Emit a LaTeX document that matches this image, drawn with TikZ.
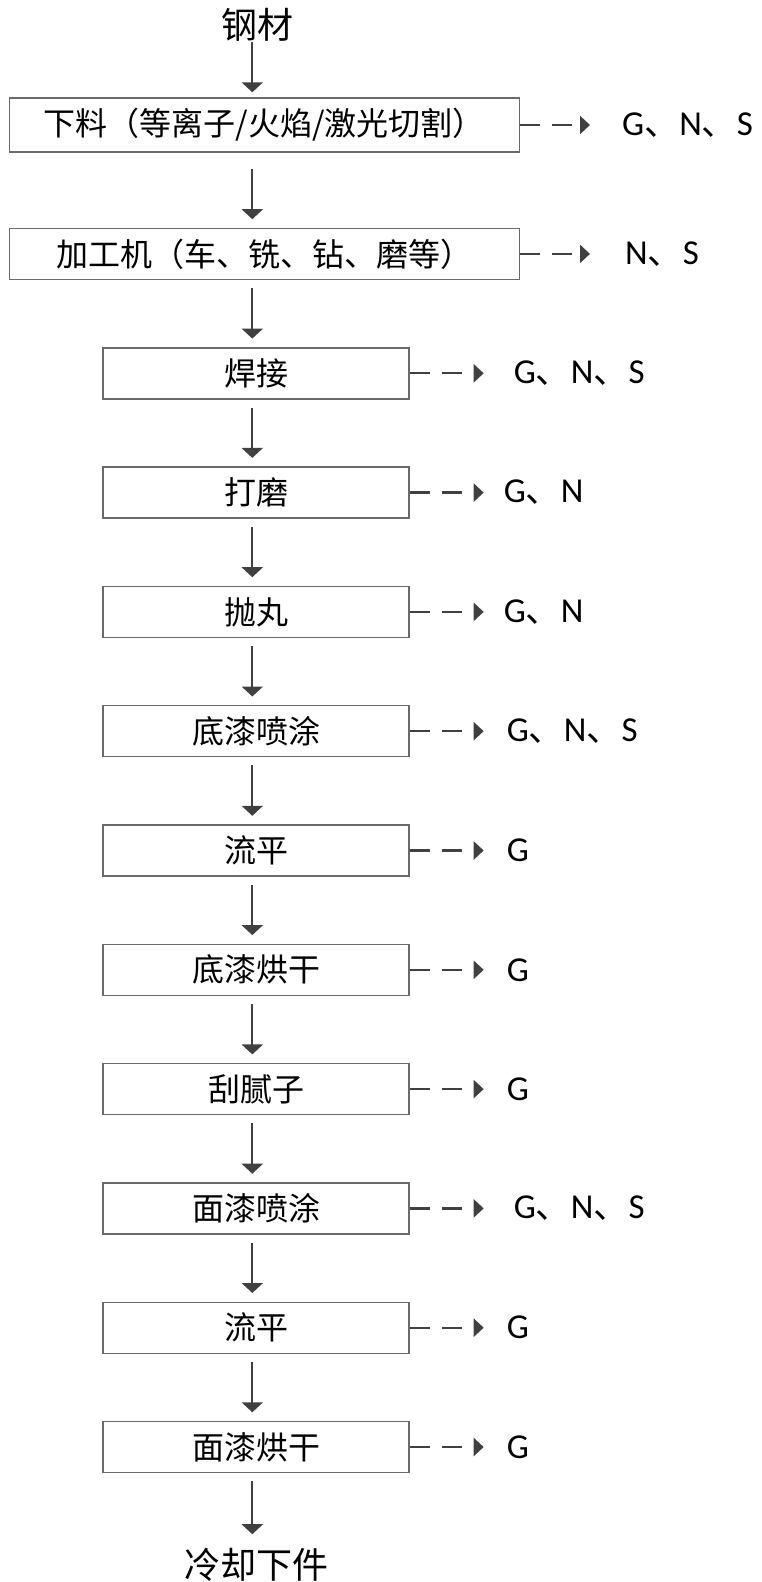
\documentclass[tikz,border=0pt]{standalone}
\usepackage{fontspec}
\setmainfont{Noto Sans CJK SC}
\newfontfamily\latinfont{Carlito}
\usepackage{tikz}
\usetikzlibrary{arrows.meta,positioning}
\definecolor{arrowgray}{HTML}{404040}
\definecolor{boxgray}{HTML}{6A6A6A}
\newcommand{\dun}{{\rmfamily 、}}

\begin{document}
\begin{tikzpicture}[
  x=1pt, y=-1pt,
  every node/.style={inner sep=0pt},
  stepbox/.style={draw=boxgray, line width=1.4pt, minimum width=306pt, minimum height=51pt, font=\fontsize{32}{36}\selectfont},
  widebox/.style={stepbox, minimum width=510pt},
  ends/.style={font=\fontsize{36}{40}\selectfont},
  flow/.style={-{Triangle[width=21pt,length=10pt]}, draw=arrowgray, line width=2.3pt, shorten <=8pt, shorten >=8.5pt},
  emit/.style={-{Triangle[width=18pt,length=10pt]}, draw=arrowgray, line width=2.3pt, dash pattern=on 20pt off 12pt},
  emitlabel/.style={font=\latinfont\fontsize{35}{40}\selectfont},
]
  \useasboundingbox (0,0) rectangle (761,1582);
  \coordinate (axis) at (252.3,0);

  \node[ends] (steel) at (257.5,25) {钢材};
  \node[widebox, minimum height=54pt] (b1) at (264.3,125) {下料（等离子/火焰/激光切割）};
  \node[widebox, below=75pt of b1] (b2) {加工机（车、铣、钻、磨等）};
  \node[stepbox, below=67pt of b2, xshift=-8.3pt] (b3) {焊接};
  \node[stepbox, below=66.9pt of b3] (b4) {打磨};
  \node[stepbox, below=66.9pt of b4] (b5) {抛丸};
  \node[stepbox, below=66.9pt of b5] (b6) {底漆喷涂};
  \node[stepbox, below=66.9pt of b6] (b7) {流平};
  \node[stepbox, below=66.9pt of b7] (b8) {底漆烘干};
  \node[stepbox, below=66.9pt of b8] (b9) {刮腻子};
  \node[stepbox, below=66.9pt of b9] (b10) {面漆喷涂};
  \node[stepbox, below=66.9pt of b10] (b11) {流平};
  \node[stepbox, below=66.9pt of b11] (b12) {面漆烘干};
  \node[ends] (cool) at (256,1565) {冷却下件};

  % main flow
  \draw[flow, shorten <=0pt, shorten >=5pt] (steel.south -| axis) -- (b1.north -| axis);
  \draw[flow, shorten <=16pt] (b1.south -| axis) -- (b2.north -| axis);
  \draw[flow] (b2.south -| axis) -- (b3.north -| axis);
  \draw[flow] (b3.south -| axis) -- (b4.north -| axis);
  \draw[flow] (b4.south -| axis) -- (b5.north -| axis);
  \draw[flow] (b5.south -| axis) -- (b6.north -| axis);
  \draw[flow] (b6.south -| axis) -- (b7.north -| axis);
  \draw[flow] (b7.south -| axis) -- (b8.north -| axis);
  \draw[flow] (b8.south -| axis) -- (b9.north -| axis);
  \draw[flow] (b9.south -| axis) -- (b10.north -| axis);
  \draw[flow] (b10.south -| axis) -- (b11.north -| axis);
  \draw[flow] (b11.south -| axis) -- (b12.north -| axis);
  \draw[flow, shorten >=14pt] (b12.south -| axis) -- (cool.north -| axis);

  % emissions of each step
  \coordinate[right=70pt of b1] (t1);
  \coordinate[right=70pt of b2] (t2);
  \coordinate[right=74pt of b3] (t3);
  \coordinate[right=74pt of b4] (t4);
  \coordinate[right=74pt of b5] (t5);
  \coordinate[right=74pt of b6] (t6);
  \coordinate[right=74pt of b7] (t7);
  \coordinate[right=74pt of b8] (t8);
  \coordinate[right=74pt of b9] (t9);
  \coordinate[right=74pt of b10] (t10);
  \coordinate[right=74pt of b11] (t11);
  \coordinate[right=74pt of b12] (t12);
  \foreach \i in {1,...,12} { \draw[emit] (b\i.east) -- (t\i); }

  \node[emitlabel, right=32pt of t1] (e1) {G\dun N\dun S};
  \node[emitlabel, right=35pt of t2] (e2) {N\dun S};
  \node[emitlabel, right=30pt of t3] (e3) {G\dun N\dun S};
  \node[emitlabel, right=20pt of t4] (e4) {G\dun N};
  \node[emitlabel, right=20pt of t5] (e5) {G\dun N};
  \node[emitlabel, right=23pt of t6] (e6) {G\dun N\dun S};
  \node[emitlabel, right=23pt of t7] (e7) {G};
  \node[emitlabel, right=23pt of t8] (e8) {G};
  \node[emitlabel, right=23pt of t9] (e9) {G};
  \node[emitlabel, right=30pt of t10] (e10) {G\dun N\dun S};
  \node[emitlabel, right=23pt of t11] (e11) {G};
  \node[emitlabel, right=23pt of t12] (e12) {G};
\end{tikzpicture}
\end{document}
